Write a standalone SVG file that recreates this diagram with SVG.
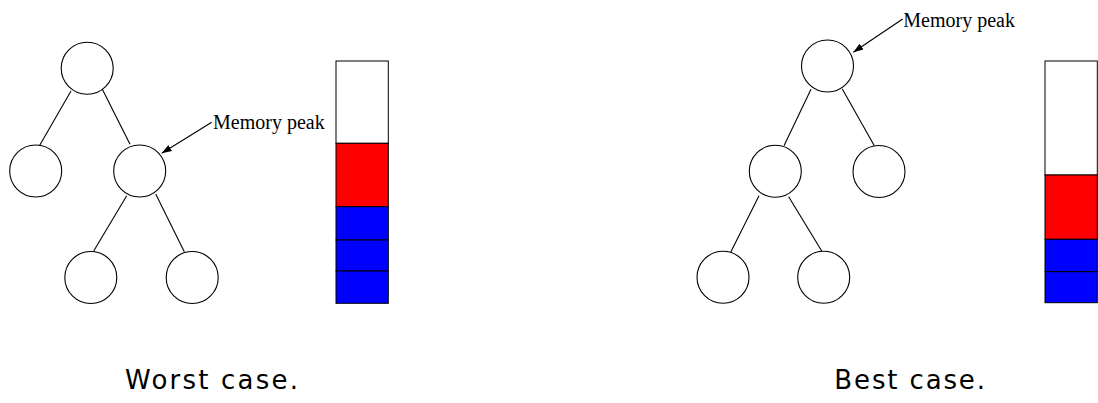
<svg xmlns="http://www.w3.org/2000/svg" width="1098" height="403" viewBox="0 0 1098 403">
<style>
.n{fill:#fff;stroke:#000;stroke-width:1.1}
.e{stroke:#000;stroke-width:1.1;fill:none}
.a{stroke:#000;stroke-width:1.1;fill:none;marker-end:url(#ah)}
.lbl{font-family:"Liberation Serif",serif;font-size:20px;fill:#000}
.cap{font-family:"DejaVu Sans","Liberation Sans",sans-serif;font-size:26px;fill:#000}
.seg{stroke:#000;stroke-width:1}
</style>
<defs>
<marker id="ah" viewBox="0 0 10 10" refX="10" refY="5" markerWidth="10" markerHeight="10" markerUnits="userSpaceOnUse" orient="auto">
<path d="M0,1.5 L10,5 L0,8.5 Z" fill="#000"/>
</marker>
</defs>
<rect width="1098" height="403" fill="#fff"/>
<g id="connectors">
<line class="e" x1="71" y1="91" x2="39.3" y2="146"/>
<line class="e" x1="101.7" y1="88" x2="130" y2="144.3"/>
<line class="e" x1="126.7" y1="195.7" x2="93.7" y2="251"/>
<line class="e" x1="155.7" y1="194" x2="184.3" y2="251.7"/>
<line class="a" x1="211.7" y1="122.3" x2="161.7" y2="153.3"/>
<line class="e" x1="811" y1="89.3" x2="784" y2="145.7"/>
<line class="e" x1="842.3" y1="89" x2="874.3" y2="145.7"/>
<line class="e" x1="759" y1="195.7" x2="730.7" y2="252.3"/>
<line class="e" x1="788.7" y1="196.7" x2="821.7" y2="251"/>
<line class="a" x1="902.7" y1="19" x2="853.3" y2="52.3"/>
</g>
<g id="w-root"><circle class="n" cx="87.2" cy="68.3" r="26"/></g>
<g id="w-left"><circle class="n" cx="35.7" cy="171" r="26"/></g>
<g id="w-right"><circle class="n" cx="139.7" cy="171" r="26"/></g>
<g id="w-bl"><circle class="n" cx="90.8" cy="277.5" r="26"/></g>
<g id="w-br"><circle class="n" cx="192.2" cy="277.5" r="26"/></g>
<g id="w-label"><text class="lbl" x="213" y="129">Memory peak</text></g>
<g id="w-stack">
<rect class="seg" x="336" y="61" width="52.3" height="82.3" fill="#fff"/>
<rect class="seg" x="336" y="143.3" width="52.3" height="63.4" fill="#f00"/>
<rect class="seg" x="336" y="206.7" width="52.3" height="33.3" fill="#00f"/>
<rect class="seg" x="336" y="240" width="52.3" height="31" fill="#00f"/>
<rect class="seg" x="336" y="271" width="52.3" height="32.3" fill="#00f"/>
</g>
<g id="b-root"><circle class="n" cx="827.5" cy="66" r="26"/></g>
<g id="b-left"><circle class="n" cx="775.3" cy="171.3" r="26"/></g>
<g id="b-right"><circle class="n" cx="879" cy="171.5" r="26"/></g>
<g id="b-bl"><circle class="n" cx="723" cy="277.3" r="26"/></g>
<g id="b-br"><circle class="n" cx="823.7" cy="277.3" r="26"/></g>
<g id="b-label"><text class="lbl" x="903.3" y="27.3">Memory peak</text></g>
<g id="b-stack">
<rect class="seg" x="1045" y="61" width="52.3" height="114" fill="#fff"/>
<rect class="seg" x="1045" y="175" width="52.3" height="64.3" fill="#f00"/>
<rect class="seg" x="1045" y="239.3" width="52.3" height="32.4" fill="#00f"/>
<rect class="seg" x="1045" y="271.7" width="52.3" height="31" fill="#00f"/>
</g>
<g id="captions">
<text class="cap" x="125" y="389" textLength="173" lengthAdjust="spacing">Worst case.</text>
<text class="cap" x="834.3" y="389" textLength="150.7" lengthAdjust="spacing">Best case.</text>
</g>
</svg>
